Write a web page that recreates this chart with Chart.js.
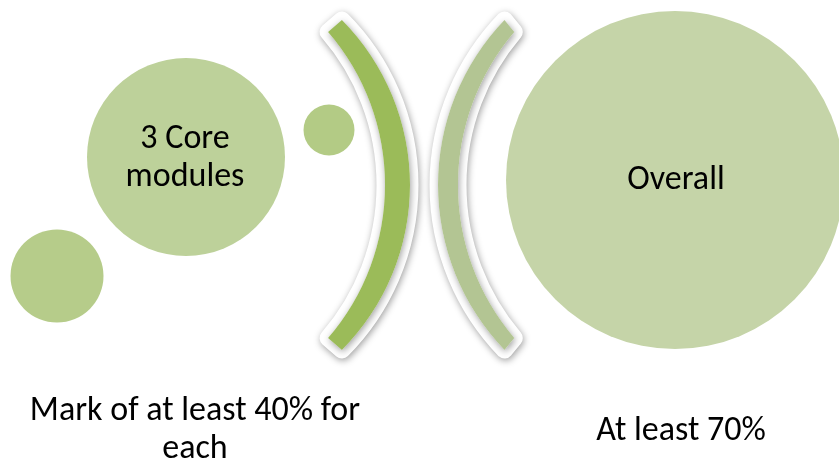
<!DOCTYPE html>
<html>
<head>
<meta charset="utf-8">
<script src="https://cdn.jsdelivr.net/npm/chart.js@4.4.1/dist/chart.umd.min.js"></script>
<style>
  html, body { margin: 0; padding: 0; background: #ffffff; }
  #wrap { width: 839px; height: 463px; position: relative; }
</style>
</head>
<body>
<div id="wrap"><canvas id="diagram"></canvas></div>
<script>
// === DATA ===
// circles: bottom-left dot, "3 Core modules", dot near the arc, "Overall"
const circleX = [57, 186, 329, 675];
const circleY = [276, 157, 130, 180];
const circleR = [46.5, 99, 25.5, 169];
const circleColors = ['#b6cc8a', '#bdd19a', '#b3cb85', '#c5d4a8'];

// the two facing arcs ")" and "(" : each is a crescent between two equal circles
const arcOuterCx = [176, 676];
const arcInnerCx = [151, 694];
const arcCy = [185, 185];
const arcOuterR = [234, 238];
const arcInnerR = [234, 236];
const arcOuterEndY = [20, 20];
const arcInnerEndY = [32, 32];
const arcSide = ['right', 'left'];
const arcColors = ['#9bbb59', '#b3c593'];

// texts
const circleText = [['3 Core', 'modules'], ['Overall']];
const circleTextX = [185, 676];
const circleTextY = [148, 189];
const captionText = [['Mark of at least 40% for', 'each'], ['At least 70%']];
const captionX = [195, 681];
const captionY = [420, 440];

(function() {
  'use strict';

  const FONT = 'Carlito, Calibri, Lato, sans-serif';

  function arcPath(ctx, xs, ys, i) {
    const cy = ys.getPixelForValue(arcCy[i]);
    const ox = xs.getPixelForValue(arcOuterCx[i]);
    const ix = xs.getPixelForValue(arcInnerCx[i]);
    const oR = xs.getPixelForValue(arcOuterCx[i] + arcOuterR[i]) - ox;
    const iR = xs.getPixelForValue(arcInnerCx[i] + arcInnerR[i]) - ix;
    const oA = Math.asin((arcCy[i] - arcOuterEndY[i]) / arcOuterR[i]);
    const iA = Math.asin((arcCy[i] - arcInnerEndY[i]) / arcInnerR[i]);
    ctx.beginPath();
    if (arcSide[i] === 'right') {
      ctx.arc(ox, cy, oR, -oA, oA, false);
      ctx.arc(ix, cy, iR, iA, -iA, true);
    } else {
      ctx.arc(ox, cy, oR, Math.PI - oA, Math.PI + oA, false);
      ctx.arc(ix, cy, iR, Math.PI + iA, Math.PI - iA, true);
    }
    ctx.closePath();
  }

  function drawLines(ctx, lines, x, y, gap) {
    lines.forEach(function(line, k) {
      ctx.fillText(line, x, y + k * gap);
    });
  }

  const arcsPlugin = {
    id: 'arcsAndText',
    afterDatasetsDraw: function(chart) {
      const ctx = chart.ctx;
      const xs = chart.scales.x;
      const ys = chart.scales.y;

      // arcs: white rim with soft shadow, then the green band
      for (let i = 0; i < arcColors.length; i++) {
        ctx.save();
        arcPath(ctx, xs, ys, i);
        ctx.shadowColor = 'rgba(0,0,0,0.38)';
        ctx.shadowBlur = 7;
        ctx.shadowOffsetX = 1;
        ctx.shadowOffsetY = 2;
        ctx.lineJoin = 'round';
        ctx.lineWidth = 17;
        ctx.strokeStyle = '#ffffff';
        ctx.fillStyle = '#ffffff';
        ctx.stroke();
        ctx.fill();
        ctx.restore();
      }
      for (let i = 0; i < arcColors.length; i++) {
        ctx.save();
        arcPath(ctx, xs, ys, i);
        ctx.fillStyle = arcColors[i];
        ctx.fill();
        ctx.restore();
      }

      // texts
      ctx.save();
      ctx.fillStyle = '#000000';
      ctx.textAlign = 'center';
      ctx.textBaseline = 'alphabetic';
      ctx.font = '34px ' + FONT;
      circleText.forEach(function(lines, i) {
        drawLines(ctx, lines, xs.getPixelForValue(circleTextX[i]), ys.getPixelForValue(circleTextY[i]), 38);
      });
      captionText.forEach(function(lines, i) {
        drawLines(ctx, lines, xs.getPixelForValue(captionX[i]), ys.getPixelForValue(captionY[i]), 38);
      });
      ctx.restore();
    }
  };

  const points = circleX.map(function(x, i) {
    return { x: x, y: circleY[i], r: circleR[i] };
  });

  new Chart(document.getElementById('diagram'), {
    type: 'bubble',
    data: {
      datasets: [{
        data: points,
        backgroundColor: circleColors,
        borderWidth: 0,
        hoverRadius: 0,
        clip: false
      }]
    },
    options: {
      responsive: true,
      maintainAspectRatio: false,
      animation: false,
      events: [],
      layout: { padding: 0, autoPadding: false },
      plugins: {
        legend: { display: false },
        tooltip: { enabled: false }
      },
      scales: {
        x: { display: false, min: 0, max: 839 },
        y: { display: false, min: 0, max: 463, reverse: true }
      }
    },
    plugins: [arcsPlugin]
  });
})();
</script>
</body>
</html>
